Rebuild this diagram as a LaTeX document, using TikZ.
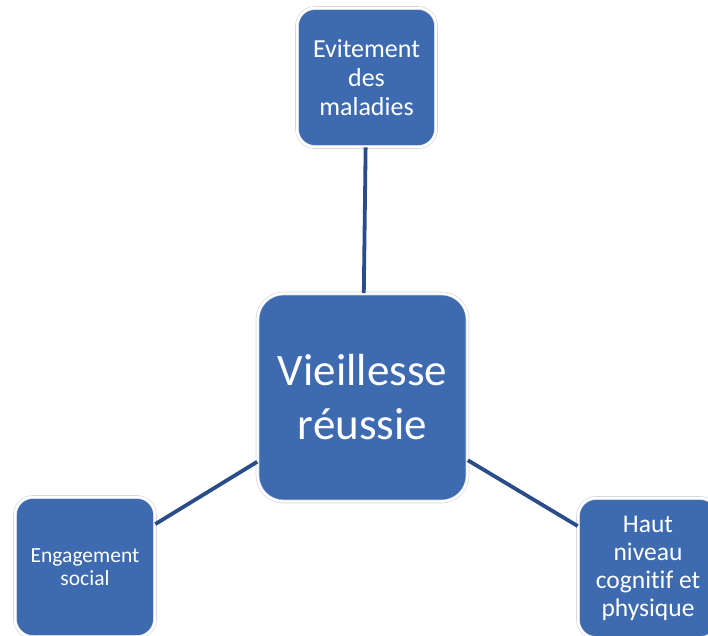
\documentclass[tikz,border=0pt]{standalone}
\usepackage{fontspec}
\setmainfont{Carlito}[Ligatures=CommonOff]
\definecolor{Bleu}{HTML}{3E6BAF}
\definecolor{Marine}{HTML}{2A4C88}
\definecolor{Bord}{HTML}{D0D4DA}

\begin{document}
\begin{tikzpicture}[x=1pt,y=1pt,
  bloc/.style={rectangle,rounded corners=18pt,fill=Bleu,draw=Bord,line width=0.6pt,
    double=white,double distance=2.4pt,text=white,align=center,inner sep=0pt,
    minimum width=139pt,minimum height=139pt},
  lien/.style={Marine,line width=3.8pt}]
  \useasboundingbox (0,0) rectangle (708,635);

  % centre
  \node[bloc,rounded corners=26pt,minimum width=210pt,minimum height=208pt,
    font=\fontsize{45}{54}\selectfont] (vieil) at (362.5,237.5) {Vieillesse\\réussie};

  % branches
  \node[bloc,font=\fontsize{26}{29}\selectfont] (malad) at (366.5,557.5)
    {Evitement\\des\\maladies};
  \node[bloc,minimum width=140pt,minimum height=140pt,font=\fontsize{21.5}{23}\selectfont]
    (social) at (85,68) {Engagement\\social};
  \node[bloc,minimum width=140pt,minimum height=140pt,font=\fontsize{25.5}{28}\selectfont]
    (haut) at (648,67) {Haut\\niveau\\cognitif et\\physique};

  % liens
  \draw[lien] (malad) -- (vieil);
  \draw[lien] (social) -- (vieil);
  \draw[lien] (haut) -- (vieil);
\end{tikzpicture}
\end{document}
